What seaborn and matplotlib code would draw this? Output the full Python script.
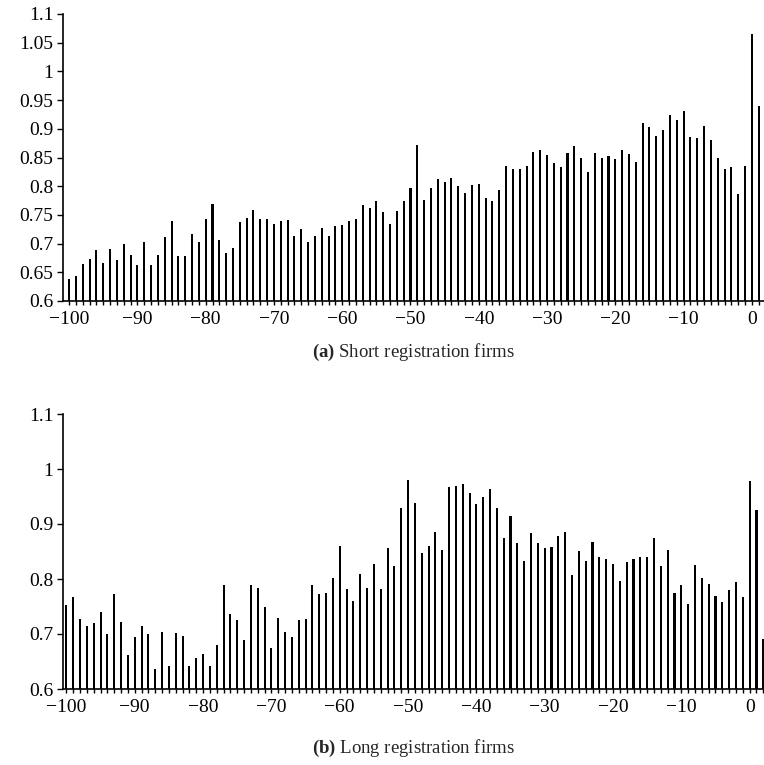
import matplotlib
matplotlib.use("Agg")
import matplotlib.pyplot as plt
import matplotlib.ticker as mticker
import seaborn as sns
import pandas as pd

# ---- data -------------------------------------------------------------
lags_short = list(range(-100, 2))      # -100 .. 1
short_vals = [
    0.638, 0.643, 0.664, 0.674, 0.688, 0.666, 0.690, 0.671, 0.699, 0.681,   # -100..-91
    0.662, 0.702, 0.662, 0.681, 0.711, 0.739, 0.678, 0.678, 0.716, 0.702,   # -90..-81
    0.742, 0.769, 0.706, 0.683, 0.692, 0.737, 0.744, 0.758, 0.742, 0.742,   # -80..-71
    0.735, 0.739, 0.741, 0.713, 0.725, 0.702, 0.713, 0.728, 0.713, 0.730,   # -70..-61
    0.732, 0.739, 0.742, 0.767, 0.762, 0.774, 0.755, 0.735, 0.756, 0.774,   # -60..-51
    0.796, 0.871, 0.776, 0.796, 0.812, 0.807, 0.814, 0.800, 0.789, 0.802,   # -50..-41
    0.803, 0.779, 0.774, 0.793, 0.835, 0.830, 0.830, 0.835, 0.859, 0.863,   # -40..-31
    0.854, 0.840, 0.833, 0.857, 0.870, 0.850, 0.824, 0.857, 0.849, 0.852,   # -30..-21
    0.847, 0.863, 0.856, 0.842, 0.910, 0.903, 0.887, 0.898, 0.924, 0.915,   # -20..-11
    0.931, 0.885, 0.884, 0.905, 0.880, 0.850, 0.830, 0.833, 0.786, 0.835,   # -10..-1
    1.065, 0.939,                                                           # 0..1
]

lags_long = list(range(-100, 3))       # -100 .. 2
long_vals = [
    0.753, 0.767, 0.727, 0.715, 0.720, 0.740, 0.700, 0.773, 0.722, 0.662,   # -100..-91
    0.695, 0.715, 0.700, 0.636, 0.704, 0.642, 0.702, 0.696, 0.642, 0.656,   # -90..-81
    0.664, 0.642, 0.680, 0.789, 0.736, 0.725, 0.689, 0.789, 0.784, 0.749,   # -80..-71
    0.675, 0.729, 0.704, 0.695, 0.725, 0.727, 0.789, 0.773, 0.775, 0.802,   # -70..-61
    0.860, 0.782, 0.760, 0.809, 0.784, 0.827, 0.782, 0.856, 0.824, 0.929,   # -60..-51
    0.980, 0.938, 0.847, 0.860, 0.885, 0.853, 0.967, 0.969, 0.973, 0.956,   # -50..-41
    0.936, 0.949, 0.964, 0.929, 0.875, 0.915, 0.865, 0.833, 0.884, 0.865,   # -40..-31
    0.856, 0.858, 0.878, 0.885, 0.807, 0.851, 0.833, 0.867, 0.840, 0.836,   # -30..-21
    0.827, 0.796, 0.831, 0.836, 0.840, 0.840, 0.875, 0.824, 0.853, 0.775,   # -20..-11
    0.789, 0.755, 0.825, 0.802, 0.791, 0.769, 0.758, 0.780, 0.795, 0.767,   # -10..-1
    0.978, 0.925, 0.691,                                                    # 0..2
]

x_major_ticks = list(range(-100, 1, 10))
y_ticks_short = [0.6, 0.65, 0.7, 0.75, 0.8, 0.85, 0.9, 0.95, 1.0, 1.05, 1.1]
y_ticks_long = [0.6, 0.7, 0.8, 0.9, 1.0, 1.1]
caption_short = "Short registration firms"
caption_long = "Long registration firms"

# ---- style ------------------------------------------------------------
sns.set_style("ticks")
plt.rcParams["font.family"] = ["Liberation Serif", "DejaVu Serif"]
plt.rcParams["mathtext.fontset"] = "custom"
plt.rcParams["mathtext.rm"] = "Liberation Serif"
plt.rcParams["mathtext.bf"] = "Liberation Serif:bold"

W, H = 764, 765
fig = plt.figure(figsize=(W / 100, H / 100), dpi=100)


def px_axes(left, top, right, bottom):
    return fig.add_axes([left / W, 1 - bottom / H, (right - left) / W, (bottom - top) / H])


ax1 = px_axes(63, 14, 764, 301)
ax2 = px_axes(63, 414, 764, 689)


def draw(ax, lags, vals, yticks, xlim, label, tag, cap_y):
    df = pd.DataFrame({"lag": lags, "val": vals})
    sns.barplot(data=df, x="lag", y="val", native_scale=True, width=0.3,
                color="black", errorbar=None, linewidth=0, saturation=1, ax=ax)
    ax.set_xlim(*xlim)
    ax.set_ylim(0.6, 1.1)
    ax.set_xticks(x_major_ticks)
    ax.xaxis.set_minor_locator(mticker.MultipleLocator(1))
    ax.set_yticks(yticks)
    ax.yaxis.set_major_formatter(mticker.FuncFormatter(lambda v, p: f"{v:g}"))
    ax.set_xlabel("")
    ax.set_ylabel("")
    for s in ("top", "right"):
        ax.spines[s].set_visible(False)
    for s in ("left", "bottom"):
        ax.spines[s].set_linewidth(1.2)
        ax.spines[s].set_color("black")
    ax.tick_params(axis="x", which="both", direction="out", length=3, width=1.0,
                   labelsize=14, pad=4, colors="black")
    ax.tick_params(axis="y", which="major", direction="out", length=4, width=1.0,
                   labelsize=14, pad=3, colors="black")
    ax.set_facecolor("white")
    cx = (63 + 764) / 2 / W
    fig.text(cx, 1 - cap_y / H, r"$\mathbf{(" + tag + r")}$ " + label,
             ha="center", va="center", fontsize=13.5)


draw(ax1, lags_short, short_vals, y_ticks_short, (-100.9, 1.78), caption_short, "a", 352)
draw(ax2, lags_long, long_vals, y_ticks_long, (-100.5, 2.1), caption_long, "b", 748)

fig.savefig("out.png", dpi=100, facecolor="white")
